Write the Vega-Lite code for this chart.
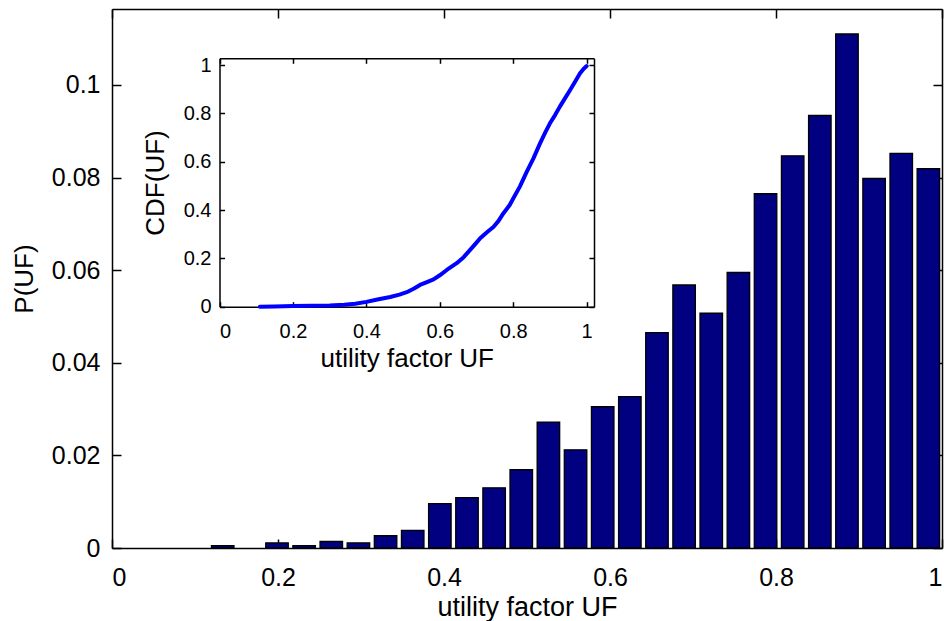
{
  "$schema": "https://vega.github.io/schema/vega-lite/v6.json",
  "autosize": {"type": "none"},
  "padding": {"left": 112, "top": 9, "right": 2, "bottom": 73},
  "width": 830,
  "height": 539,
  "config": {
    "view": {"stroke": null},
    "font": "Liberation Sans",
    "scale": {"continuousPadding": 0},
    "axis": {
      "domainColor": "black", "domainWidth": 1.5, "tickColor": "black", "tickWidth": 1.5,
      "labelColor": "black", "titleColor": "black", "titleFontWeight": "normal",
      "labelFont": "Liberation Sans", "titleFont": "Liberation Sans", "grid": false
    }
  },
  "datasets": {
    "hist": [
      {"uf": 0.1334, "p": 0.0005},
      {"uf": 0.1988, "p": 0.0011},
      {"uf": 0.2315, "p": 0.0005},
      {"uf": 0.2642, "p": 0.0014},
      {"uf": 0.2969, "p": 0.0011},
      {"uf": 0.3296, "p": 0.00265},
      {"uf": 0.3623, "p": 0.0038},
      {"uf": 0.3950, "p": 0.0096},
      {"uf": 0.4277, "p": 0.0109},
      {"uf": 0.4604, "p": 0.0130},
      {"uf": 0.4931, "p": 0.0169},
      {"uf": 0.5258, "p": 0.0272},
      {"uf": 0.5585, "p": 0.0212},
      {"uf": 0.5912, "p": 0.0305},
      {"uf": 0.6239, "p": 0.0327},
      {"uf": 0.6566, "p": 0.0465},
      {"uf": 0.6893, "p": 0.0568},
      {"uf": 0.7220, "p": 0.0507},
      {"uf": 0.7547, "p": 0.0595},
      {"uf": 0.7874, "p": 0.0765},
      {"uf": 0.8201, "p": 0.0847},
      {"uf": 0.8528, "p": 0.0934},
      {"uf": 0.8855, "p": 0.1110},
      {"uf": 0.9182, "p": 0.0798},
      {"uf": 0.9509, "p": 0.0852},
      {"uf": 0.9836, "p": 0.0819}
    ],
    "cdf": [
      {"uf": 0.11, "cdf": 0.0},
      {"uf": 0.15, "cdf": 0.001},
      {"uf": 0.2, "cdf": 0.003},
      {"uf": 0.25, "cdf": 0.004},
      {"uf": 0.3, "cdf": 0.005},
      {"uf": 0.34, "cdf": 0.008},
      {"uf": 0.37, "cdf": 0.012},
      {"uf": 0.40, "cdf": 0.02},
      {"uf": 0.43, "cdf": 0.03},
      {"uf": 0.465, "cdf": 0.04},
      {"uf": 0.49, "cdf": 0.05},
      {"uf": 0.51, "cdf": 0.06},
      {"uf": 0.53, "cdf": 0.075},
      {"uf": 0.546, "cdf": 0.09},
      {"uf": 0.565, "cdf": 0.102},
      {"uf": 0.583, "cdf": 0.113},
      {"uf": 0.60, "cdf": 0.13},
      {"uf": 0.619, "cdf": 0.152},
      {"uf": 0.646, "cdf": 0.18},
      {"uf": 0.665, "cdf": 0.205},
      {"uf": 0.682, "cdf": 0.234},
      {"uf": 0.70, "cdf": 0.265},
      {"uf": 0.71, "cdf": 0.283},
      {"uf": 0.73, "cdf": 0.31},
      {"uf": 0.746, "cdf": 0.33},
      {"uf": 0.76, "cdf": 0.355},
      {"uf": 0.773, "cdf": 0.386},
      {"uf": 0.79, "cdf": 0.42},
      {"uf": 0.80, "cdf": 0.448},
      {"uf": 0.818, "cdf": 0.497},
      {"uf": 0.837, "cdf": 0.559},
      {"uf": 0.855, "cdf": 0.614},
      {"uf": 0.873, "cdf": 0.676},
      {"uf": 0.887, "cdf": 0.72},
      {"uf": 0.90, "cdf": 0.759},
      {"uf": 0.914, "cdf": 0.793},
      {"uf": 0.927, "cdf": 0.828},
      {"uf": 0.94, "cdf": 0.86},
      {"uf": 0.955, "cdf": 0.897},
      {"uf": 0.968, "cdf": 0.93},
      {"uf": 0.982, "cdf": 0.966},
      {"uf": 0.992, "cdf": 0.985},
      {"uf": 1.0, "cdf": 0.996}
    ]
  },
  "resolve": {
    "scale": {"x": "independent", "y": "independent"},
    "axis": {"x": "independent", "y": "independent"}
  },
  "layer": [
    {
      "data": {"name": "hist"},
      "mark": {"type": "bar", "size": 22.5, "color": "#000080", "stroke": "black", "strokeWidth": 1.3},
      "encoding": {
        "x": {"field": "uf", "type": "quantitative",
          "scale": {"domain": [0, 1], "nice": false, "zero": false, "padding": 0},
          "axis": {"orient": "bottom", "values": [0, 0.2, 0.4, 0.6, 0.8, 1], "format": "~g",
            "tickSize": -9, "labelPadding": 26, "labelFontSize": 25,
            "title": "utility factor UF", "titleFontSize": 27, "titleY": 67.5, "titleBaseline": "alphabetic"}},
        "y": {"field": "p", "type": "quantitative",
          "scale": {"domain": [0, 0.1164], "nice": false, "zero": true, "padding": 0},
          "axis": {"orient": "left", "values": [0, 0.02, 0.04, 0.06, 0.08, 0.1], "format": "~g",
            "tickSize": -9, "labelPadding": 21, "labelFontSize": 25,
            "title": "P(UF)", "titleFontSize": 26, "titleX": -88, "titleBaseline": "middle"}}
      }
    },
    {
      "data": {"name": "hist"},
      "mark": {"type": "bar", "size": 22.5, "opacity": 0},
      "encoding": {
        "x": {"field": "uf", "type": "quantitative",
          "scale": {"domain": [0, 1], "nice": false, "zero": false, "padding": 0},
          "axis": {"orient": "top", "values": [0, 0.2, 0.4, 0.6, 0.8, 1], "labels": false, "tickSize": -9, "title": null}},
        "y": {"field": "p", "type": "quantitative",
          "scale": {"domain": [0, 0.1164], "nice": false, "zero": true, "padding": 0},
          "axis": {"orient": "right", "values": [0, 0.02, 0.04, 0.06, 0.08, 0.1], "labels": false, "tickSize": -9, "title": null}}
      }
    },
    {
      "data": {"name": "cdf"},
      "mark": {"type": "line", "color": "#0000FF", "strokeWidth": 4, "strokeCap": "round", "strokeJoin": "round"},
      "encoding": {
        "x": {"field": "uf", "type": "quantitative",
          "scale": {"domain": [0, 1.02], "range": [107.5, 482], "nice": false, "zero": false},
          "axis": {"orient": "bottom", "offset": -241.3, "values": [0, 0.2, 0.4, 0.6, 0.8, 1], "format": "~g",
            "tickSize": -5, "labelPadding": 20, "labelFontSize": 20,
            "title": "utility factor UF", "titleFontSize": 26, "titleY": 60, "titleBaseline": "alphabetic"}},
        "y": {"field": "cdf", "type": "quantitative",
          "scale": {"domain": [0, 1.028], "range": [297.7, 49.3], "nice": false, "zero": true},
          "axis": {"orient": "left", "offset": -107.5, "values": [0, 0.2, 0.4, 0.6, 0.8, 1], "format": "~g",
            "tickSize": -5, "labelPadding": 13.5, "labelFontSize": 20,
            "title": "CDF(UF)", "titleFontSize": 26, "titleX": -64.5, "titleBaseline": "middle"}}
      }
    },
    {
      "data": {"name": "cdf"},
      "mark": {"type": "line", "opacity": 0},
      "encoding": {
        "x": {"field": "uf", "type": "quantitative",
          "scale": {"domain": [0, 1.02], "range": [107.5, 482], "nice": false, "zero": false},
          "axis": {"orient": "top", "offset": -49.3, "values": [0, 0.2, 0.4, 0.6, 0.8, 1], "labels": false, "tickSize": -5, "title": null}},
        "y": {"field": "cdf", "type": "quantitative",
          "scale": {"domain": [0, 1.028], "range": [297.7, 49.3], "nice": false, "zero": true},
          "axis": {"orient": "right", "offset": -348, "values": [0, 0.2, 0.4, 0.6, 0.8, 1], "labels": false, "tickSize": -5, "title": null}}
      }
    }
  ]
}
